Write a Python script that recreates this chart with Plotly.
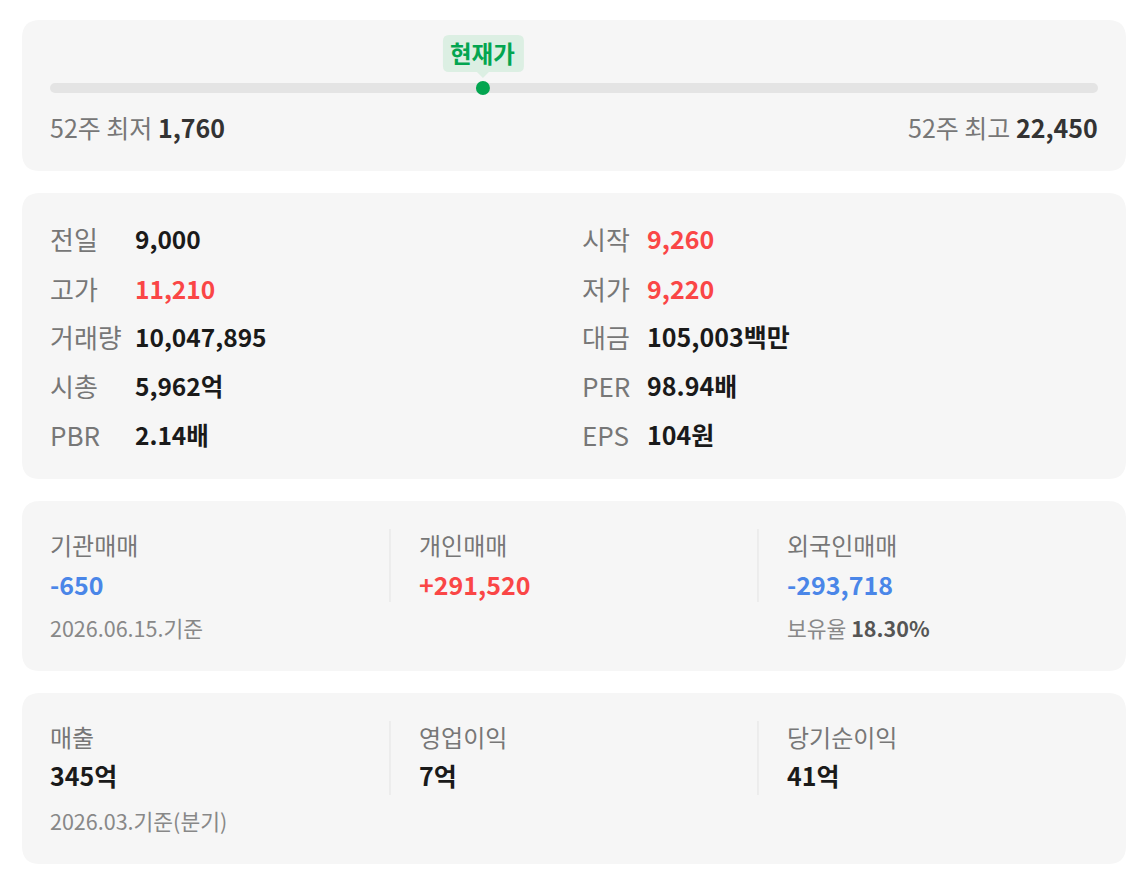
import plotly.graph_objects as go

# 52주 범위
low_52w = 1760
high_52w = 22450
current_price = 10290  # 점 위치로 추정

# 시세 요약 (왼쪽 / 오른쪽 열)
prev_close = 9000
left_labels = ["전일", "고가", "거래량", "시총", "PBR"]
left_values = ["9,000", "11,210", "10,047,895", "5,962억", "2.14배"]
left_prices = [9000, 11210, None, None, None]
right_labels = ["시작", "저가", "대금", "PER", "EPS"]
right_values = ["9,260", "9,220", "105,003백만", "98.94배", "104원"]
right_prices = [9260, 9220, None, None, None]

# 투자자별 매매
investor_labels = ["기관매매", "개인매매", "외국인매매"]
investor_values = [-650, 291520, -293718]
trade_date = "2026.06.15.기준"
foreign_ratio = "18.30%"

# 실적
earn_labels = ["매출", "영업이익", "당기순이익"]
earn_values = ["345억", "7억", "41억"]
earn_date = "2026.03.기준(분기)"

W, H = 1145, 873
OFF = 8  # 페이지 body 여백
FONT = "Noto Sans CJK KR"
GRAY = "#777777"
BLACK = "#1a1a1a"
RED = "#fa4646"
BLUE = "#4a86e8"
GREEN = "#03a550"
CARD = "#f6f6f6"
BAR_L, BAR_R = 55, 1093


def round_rect(x0, y0, x1, y1, r):
    return (f"M{x0+r},{y0} L{x1-r},{y0} Q{x1},{y0} {x1},{y0+r} "
            f"L{x1},{y1-r} Q{x1},{y1} {x1-r},{y1} L{x0+r},{y1} "
            f"Q{x0},{y1} {x0},{y1-r} L{x0},{y0+r} Q{x0},{y0} {x0+r},{y0} Z")


def price_color(p):
    if p is None or p == prev_close:
        return BLACK
    return RED if p > prev_close else BLUE


fig = go.Figure()
shapes = []
ann = []


def text(x, y, s, size, color, anchor="left"):
    # 주석 상자 여백(약 2px)만큼 보정
    dx = -2 if anchor == "left" else (2 if anchor == "right" else 0)
    ann.append(dict(x=x + dx, y=y - 2, xref="x", yref="y", text=s, showarrow=False,
                    xanchor=anchor, yanchor="middle",
                    font=dict(family=FONT, size=size, color=color)))


# 카드 배경
for y0, y1 in [(20, 171), (193, 479), (501, 671), (693, 864)]:
    shapes.append(dict(type="path", path=round_rect(22, y0, 1126, y1, 18),
                       fillcolor=CARD, line=dict(width=0), layer="below"))

# 52주 바 (x2 축 = 가격 스케일)
bar_y = 88
fig.add_trace(go.Scatter(x=[low_52w, high_52w], y=[bar_y, bar_y], xaxis="x2", yaxis="y",
                         mode="lines+markers", line=dict(color="#e4e4e4", width=10),
                         marker=dict(color="#e4e4e4", size=10), hoverinfo="skip",
                         cliponaxis=False))
fig.add_trace(go.Scatter(x=[current_price], y=[bar_y], xaxis="x2", yaxis="y",
                         mode="markers", marker=dict(color=GREEN, size=14),
                         hoverinfo="skip", cliponaxis=False))

# 현재가 말풍선
span = high_52w - low_52w
cx = BAR_L + (current_price - low_52w) * (BAR_R - BAR_L) / span
shapes.append(dict(type="path", path=round_rect(cx - 40, 35, cx + 41, 72, 6),
                   fillcolor="#dcefe3", line=dict(width=0)))
shapes.append(dict(type="path", path=f"M{cx-6},72 L{cx},78 L{cx+6},72 Z",
                   fillcolor="#dcefe3", line=dict(width=0)))
text(cx, 55, "<b>현재가</b>", 23.5, GREEN, "center")

text(50, 129, f"52주 최저 <span style='color:#333'><b>{low_52w:,}</b></span>", 25, GRAY)
text(1098, 129, f"52주 최고 <span style='color:#333'><b>{high_52w:,}</b></span>", 25, GRAY, "right")

# 시세 요약
rows_y = [240, 290, 338, 387, 436]
for i, y in enumerate(rows_y):
    text(50, y, left_labels[i], 26, GRAY)
    text(135, y, f"<b>{left_values[i]}</b>", 24.5, price_color(left_prices[i]))
    text(582, y, right_labels[i], 26, GRAY)
    text(647, y, f"<b>{right_values[i]}</b>", 25, price_color(right_prices[i]))

# 투자자별 매매 / 실적
col_x = [50, 419, 787]
for sep in [390, 758]:
    shapes.append(dict(type="line", x0=sep, x1=sep, y0=529, y1=602,
                       line=dict(color="#e3e3e3", width=1)))
    shapes.append(dict(type="line", x0=sep, x1=sep, y0=721, y1=795,
                       line=dict(color="#e3e3e3", width=1)))

for i, x in enumerate(col_x):
    v = investor_values[i]
    c = RED if v > 0 else BLUE
    text(x, 546, investor_labels[i], 24, GRAY)
    text(x, 586, f"<b>{v:+,}</b>", 25, c)
    text(x, 738, earn_labels[i], 24, GRAY)
    text(x, 777, f"<b>{earn_values[i]}</b>", 25, BLACK)

text(50, 629, trade_date, 21.5, "#888888")
text(787, 629, f"보유율 <span style='color:#555'><b>{foreign_ratio}</b></span>", 21.5, "#888888")
text(50, 822, earn_date, 21.5, "#888888")

fig.update_layout(
    width=W - OFF, height=H - OFF, margin=dict(l=0, r=0, t=0, b=0),
    paper_bgcolor="white", plot_bgcolor="rgba(0,0,0,0)", showlegend=False,
    xaxis=dict(range=[OFF, W], visible=False, fixedrange=True),
    xaxis2=dict(range=[low_52w, high_52w],
                domain=[(BAR_L - OFF) / (W - OFF), (BAR_R - OFF) / (W - OFF)],
                anchor="y", visible=False, fixedrange=True),
    yaxis=dict(range=[H, OFF], visible=False, fixedrange=True),
    shapes=shapes, annotations=ann,
)

fig.write_html("out.html", config={"displayModeBar": False})
